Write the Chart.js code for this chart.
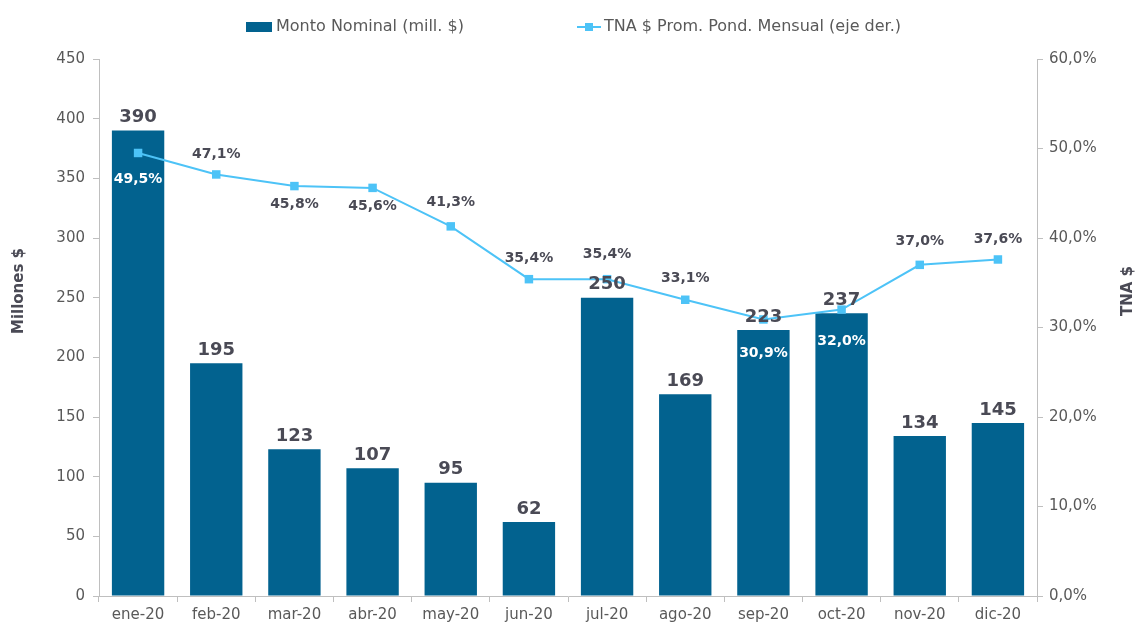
<!DOCTYPE html>
<html>
<head>
<meta charset="utf-8">
<script src="https://cdn.jsdelivr.net/npm/chart.js@4.4.1/dist/chart.umd.min.js"></script>
<style>
  html, body { margin: 0; padding: 0; background: #fff; }
  #wrap { width: 1137px; height: 622px; }
</style>
</head>
<body>
<div id="wrap"><canvas id="chart" width="1137" height="622"></canvas></div>
<script>
// data
const categories = ["ene-20","feb-20","mar-20","abr-20","may-20","jun-20","jul-20","ago-20","sep-20","oct-20","nov-20","dic-20"];
const montoNominal = [390, 195, 123, 107, 95, 62, 250, 169, 223, 237, 134, 145];
const tnaProm = [49.5, 47.1, 45.8, 45.6, 41.3, 35.4, 35.4, 33.1, 30.9, 32.0, 37.0, 37.6];
const leftTicks = [0, 450, 50];   // min, max, step
const rightTicks = [0, 60, 10];

const BAR = "#02628F";
const LINE = "#4DC3F7";
const TXT = "#4A4A55";
const AXIS = "#BFBFBF";
const FONT = "'DejaVu Sans', sans-serif";

// label placement for the line values (px offset of label centre from point), white when inside a bar
const lineLabelDy = [26, -20, 18, 18, -24, -21, -25, -21, 34, 32, -23, -20];
const lineLabelWhite = [true, false, false, false, false, false, false, false, true, true, false, false];

const fmtPct = v => v.toFixed(1).replace(".", ",") + "%";

// values on top of the bars + line values + axis titles + legend
const labelsPlugin = {
  id: "labels",
  afterDatasetsDraw(chart){
    const ctx = chart.ctx;
    ctx.save();
    ctx.textAlign = "center";
    ctx.textBaseline = "middle";

    const bars = chart.getDatasetMeta(0).data;
    ctx.font = "bold 18px " + FONT;
    ctx.fillStyle = TXT;
    bars.forEach((b, i) => ctx.fillText(String(montoNominal[i]), b.x, b.y - 13));

    const pts = chart.getDatasetMeta(1).data;
    ctx.font = "bold 14px " + FONT;
    pts.forEach((p, i) => {
      ctx.fillStyle = lineLabelWhite[i] ? "#ffffff" : TXT;
      ctx.fillText(fmtPct(tnaProm[i]), p.x, p.y + lineLabelDy[i]);
    });

    // axis titles
    ctx.font = "bold 15px " + FONT;
    ctx.fillStyle = TXT;
    ctx.translate(19, 291);
    ctx.rotate(-Math.PI / 2);
    ctx.fillText("Millones $", 0, 0);
    ctx.setTransform(1, 0, 0, 1, 0, 0);
    ctx.translate(1128, 291);
    ctx.rotate(-Math.PI / 2);
    ctx.fillText("TNA $", 0, 0);
    ctx.setTransform(1, 0, 0, 1, 0, 0);

    // legend
    ctx.textAlign = "left";
    ctx.font = "16px " + FONT;
    ctx.fillStyle = BAR;
    ctx.fillRect(246, 22, 26, 10);
    ctx.fillStyle = "#595959";
    ctx.fillText(chart.data.datasets[0].label, 276, 27);
    ctx.strokeStyle = LINE;
    ctx.lineWidth = 2;
    ctx.beginPath();
    ctx.moveTo(577, 27);
    ctx.lineTo(601, 27);
    ctx.stroke();
    ctx.fillStyle = LINE;
    ctx.fillRect(585, 23, 8, 8);
    ctx.fillStyle = "#595959";
    ctx.fillText(chart.data.datasets[1].label, 604, 27);
    ctx.restore();
  }
};

const tickFont = { family: FONT, size: 15 };

new Chart(document.getElementById("chart"), {
  type: "bar",
  data: {
    labels: categories,
    datasets: [
      {
        type: "bar",
        label: "Monto Nominal (mill. $)",
        data: montoNominal,
        backgroundColor: BAR,
        categoryPercentage: 0.67,
        barPercentage: 1,
        yAxisID: "y",
        order: 2
      },
      {
        type: "line",
        label: "TNA $ Prom. Pond. Mensual (eje der.)",
        data: tnaProm,
        borderColor: LINE,
        backgroundColor: LINE,
        borderWidth: 2,
        pointStyle: "rect",
        pointRadius: 6,
        pointBackgroundColor: LINE,
        pointBorderWidth: 0,
        tension: 0,
        yAxisID: "y1",
        order: 1
      }
    ]
  },
  options: {
    responsive: false,
    animation: false,
    devicePixelRatio: 1,
    layout: { padding: { top: 59, bottom: 0, left: 0, right: 0 } },
    plugins: {
      legend: { display: false },
      tooltip: { enabled: false }
    },
    scales: {
      x: {
        grid: { display: true, drawOnChartArea: false, offset: true, color: AXIS, tickLength: 6 },
        border: { color: AXIS },
        ticks: { color: "#595959", font: tickFont, padding: 4, maxRotation: 0 },
        afterFit(s){ s.height = 26; }
      },
      y: {
        position: "left",
        min: leftTicks[0], max: leftTicks[1],
        grid: { display: true, drawOnChartArea: false, color: AXIS, tickLength: 6 },
        border: { color: AXIS },
        ticks: { stepSize: leftTicks[2], color: "#595959", font: tickFont, padding: 8 },
        afterFit(s){ s.width = 99; }
      },
      y1: {
        position: "right",
        min: rightTicks[0], max: rightTicks[1],
        grid: { display: true, drawOnChartArea: false, color: AXIS, tickLength: 6 },
        border: { color: AXIS },
        ticks: { stepSize: rightTicks[2], color: "#595959", font: tickFont, padding: 6, callback: v => fmtPct(v) },
        afterFit(s){ s.width = 100; }
      }
    }
  },
  plugins: [labelsPlugin]
});
</script>
</body>
</html>
